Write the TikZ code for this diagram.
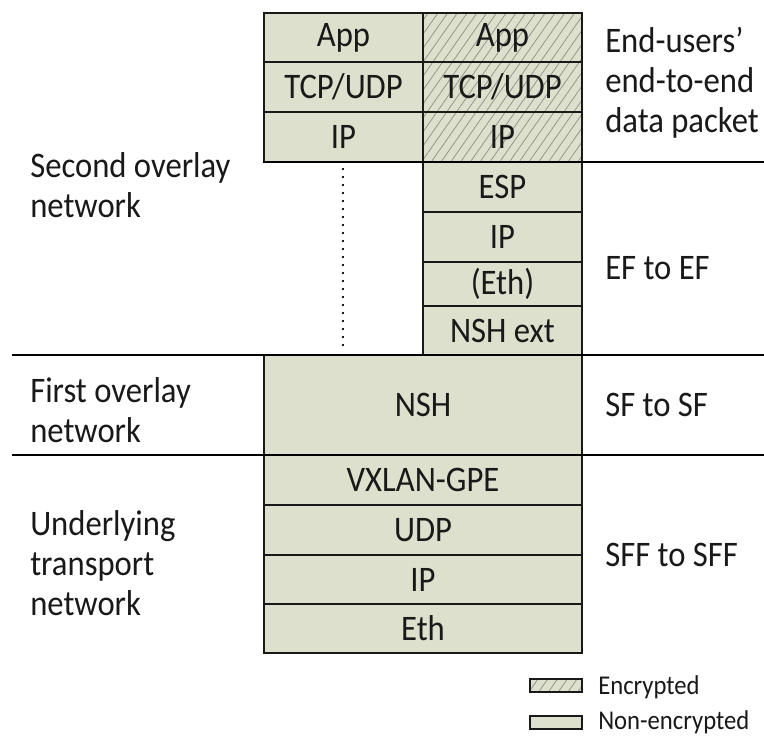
\documentclass[tikz,border=0pt]{standalone}
\usepackage{fontspec}
\usepackage{graphicx}
\setmainfont{Carlito}
\usetikzlibrary{patterns.meta}
\definecolor{cellfill}{RGB}{221,224,204}
\definecolor{hatch}{RGB}{150,150,140}
\definecolor{ink}{RGB}{25,25,25}
% slightly tall lettering
\newcommand\tl[1]{\scalebox{1}[1.1]{#1}}
\tikzset{
  cellbox/.style={draw=ink, line width=1.1pt, fill=cellfill},
  enc/.style={pattern={Lines[angle=55,distance=6pt,line width=0.6pt]}, pattern color=hatch},
  celltext/.style={text=ink, font=\fontsize{24.5}{29}\selectfont, inner sep=0pt},
  sidetext/.style={text=ink, font=\fontsize{24.5}{30}\selectfont, align=left, anchor=west, inner sep=0pt},
  legtext/.style={text=ink, font=\fontsize{18.5}{22}\selectfont, anchor=west, inner sep=0pt},
  sep/.style={draw=black, line width=2pt},
  dotline/.style={draw=ink, line width=1.9pt, dash pattern=on 1.3pt off 4.7pt}
}
% a protocol layer: name, x1, y1, x2, y2, label
\newcommand\layer[6]{%
  \filldraw[cellbox] (#2,#3) rectangle (#4,#5);
  \node[celltext] (#1) at ({(#2+#4)/2},{(#3+#5)/2}) {\tl{#6}};}
% an encrypted layer: same fields, hatched over the fill
\newcommand\enclayer[6]{%
  \filldraw[cellbox] (#2,#3) rectangle (#4,#5);
  \fill[enc] (#2,#3) rectangle (#4,#5);
  \draw[draw=ink, line width=1.1pt] (#2,#3) rectangle (#4,#5);
  \node[celltext] (#1) at ({(#2+#4)/2},{(#3+#5)/2}) {\tl{#6}};}
\begin{document}
\begin{tikzpicture}[x=0.75pt, y=-0.75pt]
\useasboundingbox (0,0) rectangle (764,736);

% end-users' packet, plain and encrypted copies
\layer{appA}{264}{13}{423}{62}{App}
\layer{tcpA}{264}{62}{423}{112}{TCP/UDP}
\layer{ipA}{264}{112}{423}{162}{IP}
\enclayer{appB}{423}{13}{582}{62}{App}
\enclayer{tcpB}{423}{62}{582}{112}{TCP/UDP}
\enclayer{ipB}{423}{112}{582}{162}{IP}

% EF to EF headers
\layer{esp}{423}{162}{582}{212}{ESP}
\layer{ipC}{423}{212}{582}{262}{IP}
\layer{eth}{423}{262}{582}{306}{(Eth)}
\layer{nshx}{423}{306}{582}{355}{NSH ext}

% SF to SF
\layer{nsh}{264}{355}{582}{455}{NSH}

% SFF to SFF
\layer{vxlan}{264}{455}{582}{505}{VXLAN-GPE}
\layer{udp}{264}{505}{582}{555}{UDP}
\layer{ipD}{264}{555}{582}{604}{IP}
\layer{ethD}{264}{604}{582}{653}{Eth}

% dotted link under the plain packet
\coordinate (dtop) at (343,168);
\coordinate (dbot) at (343,351);
\draw[dotline] (dtop) -- (dbot);

% network boundaries
\coordinate (s1a) at (263,162); \coordinate (s1b) at (764,162);
\coordinate (s2a) at (12,355);  \coordinate (s2b) at (764,355);
\coordinate (s3a) at (12,455);  \coordinate (s3b) at (764,455);
\draw[sep] (s1a) -- (s1b);
\draw[sep] (s2a) -- (s2b);
\draw[sep] (s3a) -- (s3b);

% left labels
\node[sidetext] (second) at (30,185) {\tl{Second overlay}\\\tl{network}};
\node[sidetext] (first) at (30,410) {\tl{First overlay}\\\tl{network}};
\node[sidetext] (under) at (30,563) {\tl{Underlying}\\\tl{transport}\\\tl{network}};

% right labels
\node[sidetext] (e2e) at (605,83) {\tl{End-users’}\\\tl{end-to-end}\\\tl{data packet}};
\node[sidetext] (ef) at (605,268) {\tl{EF to EF}};
\node[sidetext] (sf) at (605,405) {\tl{SF to SF}};
\node[sidetext] (sff) at (605,555) {\tl{SFF to SFF}};

% legend
\filldraw[cellbox, line width=0.9pt] (530,679) rectangle (582,692);
\fill[enc] (530,679) rectangle (582,692);
\draw[draw=ink, line width=0.9pt] (530,679) rectangle (582,692);
\node[legtext] (legenc) at (598,687) {\tl{Encrypted}};
\filldraw[cellbox, line width=0.9pt] (530,716) rectangle (582,729);
\node[legtext] (legplain) at (598,722) {\tl{Non-encrypted}};
\end{tikzpicture}
\end{document}
